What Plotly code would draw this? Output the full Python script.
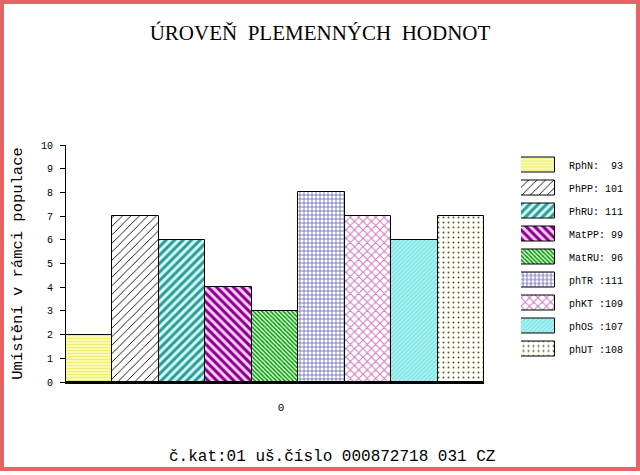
import plotly.graph_objects as go

# hodnoty z grafu
kategorie = ["RphN", "PhPP", "PhRU", "MatPP", "MatRU", "phTR", "phKT", "phOS", "phUT"]
plemenne_hodnoty = [93, 101, 111, 99, 96, 111, 109, 107, 108]
umisteni = [2, 7, 6, 4, 3, 8, 7, 6, 7]
popisky_legendy = ["RphN:  93", "PhPP: 101", "PhRU: 111", "MatPP: 99", "MatRU: 96",
                   "phTR :111", "phKT :109", "phOS :107", "phUT :108"]
osa_x = ["0"]
y_ticks = list(range(0, 11))

# vzhled vzoru (shape, fg, bg, size, solidity)
vzory = [
    ("-", "#eeee70", "#ffffc8", 3, 0.5),
    ("/", "#000000", "#ffffff", 6, 0.15),
    ("/", "#339990", "#ccffff", 6, 0.5),
    ("\\", "#880088", "#ffccff", 6, 0.5),
    ("\\", "#008800", "#ccffcc", 3, 0.45),
    ("+", "#4848a8", "#ffffff", 4, 0.3),
    ("x", "#cc77bb", "#ffffff", 6, 0.3),
    ("/", "#80e0e0", "#a8f4f4", 3, 0.4),
    (".", "#555555", "#fffff4", 5, 0.12),
]

W, H = 640, 475
ML, MR, MT, MB = 66, 10, 145, 93
plot_w = W - ML - MR
plot_h = H - MT - MB

fig = go.Figure()

for i, k in enumerate(kategorie):
    shp, fg, bg, sz, sol = vzory[i]
    vzor = dict(shape=shp, fgcolor=fg, bgcolor=bg, size=sz, solidity=sol, fillmode="replace")
    fig.add_trace(go.Bar(
        x=osa_x, y=[umisteni[i]], name=k, showlegend=False, hoverinfo="skip",
        marker=dict(color=bg, line=dict(color="black", width=1), pattern=vzor),
    ))
    # legenda jako druhy graf
    fig.add_trace(go.Bar(
        y=[popisky_legendy[i]], x=[1], orientation="h", width=0.68, offsetgroup="leg",
        xaxis="x2", yaxis="y2", showlegend=False, hoverinfo="skip",
        marker=dict(color=bg, line=dict(color="black", width=1), pattern=vzor),
    ))

mono = "Liberation Mono"

fig.update_layout(
    width=W, height=H,
    margin=dict(l=ML, r=MR, t=MT, b=MB),
    paper_bgcolor="white", plot_bgcolor="white",
    barmode="group", bargap=0, bargroupgap=0,
    title=dict(text="ÚROVEŇ\u00a0 PLEMENNÝCH\u00a0 HODNOT", x=0.5, xanchor="center",
               y=(H - 33) / H, yanchor="middle",
               font=dict(family="Liberation Serif", size=21, color="black")),
    xaxis=dict(domain=[0, (484 - ML) / plot_w], type="category", automargin=False,
               showline=True, linecolor="black", linewidth=2,
               ticks="outside", ticklen=14, tickcolor="rgba(0,0,0,0)", ticklabelshift=6,
               tickfont=dict(family=mono, size=11, color="black"),
               showgrid=False, zeroline=False, fixedrange=True),
    yaxis=dict(range=[0, 10], tickvals=y_ticks, showline=True, linecolor="black",
               linewidth=1, ticks="outside", ticklen=5, tickcolor="black", automargin=False,
               ticklabelstandoff=5,
               tickfont=dict(family=mono, size=10, color="black"),
               showgrid=False, zeroline=False,
               title=dict(text="Umístění v rámci populace", standoff=14,
                          font=dict(family=mono, size=15.5, color="black"))),
    xaxis2=dict(domain=[(521 - ML) / plot_w, (555 - ML) / plot_w], range=[0, 1],
                anchor="y2", visible=False, automargin=False),
    yaxis2=dict(domain=[(382 - 360.5) / plot_h, (382 - 153.5) / plot_h], anchor="x2",
                type="category", categoryorder="array", categoryarray=popisky_legendy,
                autorange="reversed", side="right", showline=False, showgrid=False,
                zeroline=False, ticks="outside", ticklen=11, tickcolor="rgba(0,0,0,0)",
                automargin=False, tickfont=dict(family=mono, size=10, color="black")),
    # cerveny ramecek kolem obrazku
    shapes=[dict(type="rect", xref="paper", yref="paper",
                 x0=(2 - ML) / plot_w, x1=(W - 2 - ML) / plot_w,
                 y0=(6 - MB) / plot_h, y1=(H - 2 - MB) / plot_h,
                 line=dict(color="#e86464", width=4))],
    annotations=[dict(text="č.kat:01 uš.číslo 000872718 031 CZ", xref="paper", yref="paper",
                      x=(332 - ML) / plot_w, y=(382 - 457) / plot_h,
                      xanchor="center", yanchor="middle", showarrow=False,
                      font=dict(family=mono, size=16, color="black"))],
)

fig.write_html("out.html", config={"displayModeBar": False},
               post_script="document.body.style.margin='0';")
